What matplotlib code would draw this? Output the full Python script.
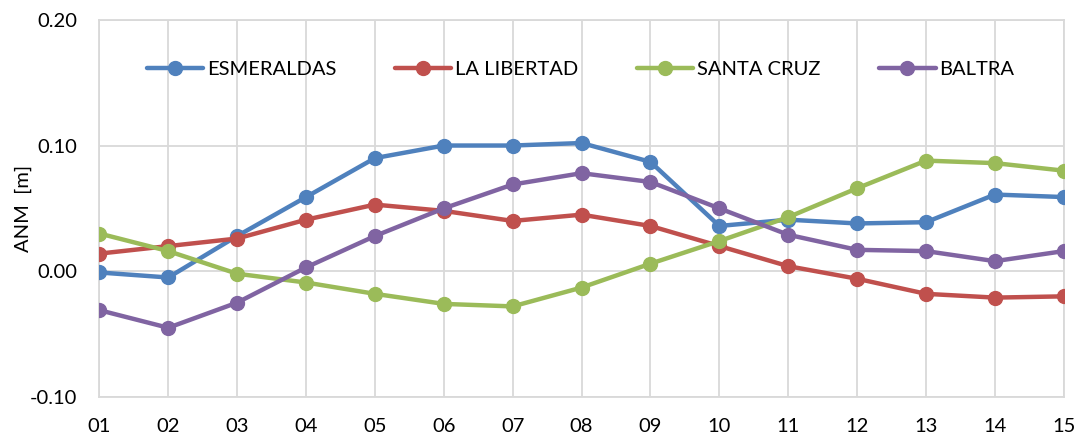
import matplotlib
matplotlib.use("Agg")
import matplotlib.pyplot as plt

plt.rcParams['font.family'] = ['Lato', 'DejaVu Sans']

categories = ["01", "02", "03", "04", "05", "06", "07", "08", "09", "10", "11", "12", "13", "14", "15"]
esmeraldas = [-0.001, -0.005, 0.028, 0.059, 0.090, 0.100, 0.100, 0.102, 0.087, 0.036, 0.041, 0.038, 0.039, 0.061, 0.059]
la_libertad = [0.014, 0.020, 0.026, 0.041, 0.053, 0.048, 0.040, 0.045, 0.036, 0.020, 0.004, -0.006, -0.018, -0.021, -0.020]
santa_cruz = [0.030, 0.016, -0.002, -0.009, -0.018, -0.026, -0.028, -0.013, 0.006, 0.024, 0.043, 0.066, 0.088, 0.086, 0.080]
baltra = [-0.031, -0.045, -0.025, 0.003, 0.028, 0.050, 0.069, 0.078, 0.071, 0.050, 0.029, 0.017, 0.016, 0.008, 0.016]
series_names = ["ESMERALDAS", "LA LIBERTAD", "SANTA CRUZ", "BALTRA"]
yticks = [-0.10, 0.00, 0.10, 0.20]
ylabel = "ANM  [m]"

colors = ["#4F81BD", "#C0504D", "#9BBB59", "#8064A2"]

fig = plt.figure(figsize=(10.8, 4.41), dpi=100)
ax = fig.add_axes([0.092, 0.10, 0.893, 0.855])

x = list(range(len(categories)))
for name, vals, c in zip(series_names, [esmeraldas, la_libertad, santa_cruz, baltra], colors):
    ax.plot(x, vals, color=c, lw=3.2, marker='o', markersize=10, label=name,
            solid_capstyle='round', zorder=3)

ax.set_xlim(0, len(categories) - 1)
ax.set_ylim(-0.10, 0.20)
ax.set_xticks(x)
ax.set_xticklabels(categories)
ax.set_yticks(yticks)
ax.set_yticklabels([f"{v:.2f}" for v in yticks])
ax.grid(True, color="#D9D9D9", lw=1.3, zorder=0)
for s in ax.spines.values():
    s.set_color("#D9D9D9")
    s.set_linewidth(1.3)
ax.tick_params(length=0, labelsize=14.5, colors="black")
ax.tick_params(axis='y', pad=16)
ax.tick_params(axis='x', pad=15)
ax.set_ylabel(ylabel, fontsize=14.5)
ax.yaxis.set_label_coords(-0.07, 0.5)

leg = ax.legend(loc='center', bbox_to_anchor=(0.499, 0.868), ncol=4, frameon=False,
                fontsize=14.5, handlelength=2.8, columnspacing=2.9, handletextpad=0.2,
                borderaxespad=0.0)

fig.savefig("out.png", dpi=100)
